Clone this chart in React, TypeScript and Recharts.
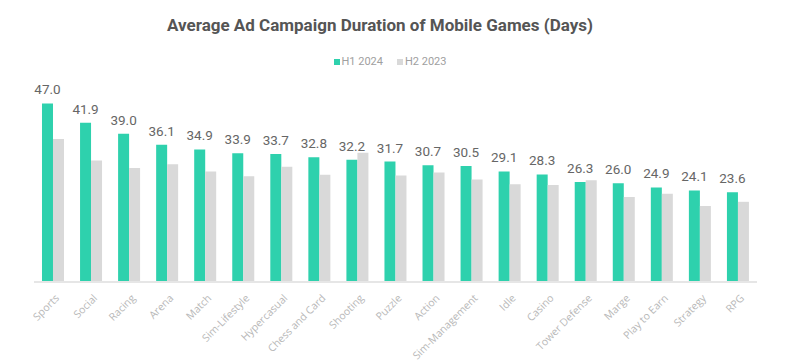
import React from 'react';
import { BarChart, Bar, XAxis, YAxis, LabelList } from 'recharts';

const genres = [
  'Sports', 'Social', 'Racing', 'Arena', 'Match', 'Sim-Lifestyle', 'Hypercasual',
  'Chess and Card', 'Shooting', 'Puzzle', 'Action', 'Sim-Management', 'Idle',
  'Casino', 'Tower Defense', 'Marge', 'Play to Earn', 'Strategy', 'RPG',
];
const h1_2024 = [47.0, 41.9, 39.0, 36.1, 34.9, 33.9, 33.7, 32.8, 32.2, 31.7, 30.7, 30.5, 29.1, 28.3, 26.3, 26.0, 24.9, 24.1, 23.6];
const h2_2023 = [37.6, 32.0, 30.0, 31.0, 29.1, 27.8, 30.3, 28.2, 34.0, 28.0, 28.8, 27.0, 25.7, 25.5, 26.8, 22.4, 23.2, 20.0, 21.1];

const GREEN = '#2ed1ad';
const GREY = '#d9d9d9';

const data = genres.map((g, i) => ({ genre: g, h1: h1_2024[i], h2: h2_2023[i] }));

const RotatedTick = (props: any) => {
  const { x, y, payload } = props;
  return (
    <g transform={`translate(${x + 4},${y + 6})`}>
      <text
        textAnchor="end"
        transform="rotate(-45)"
        fill="#b8b8b8"
        fontSize={10.5}
        fontFamily="'Open Sans', sans-serif"
        dy={4}
      >
        {payload.value}
      </text>
    </g>
  );
};

export default function App() {
  return (
    <div style={{ position: 'absolute', left: 0, top: 0, width: 800, height: 363, background: '#fff' }}>
      <div
        style={{
          position: 'absolute', top: 15, left: 0, width: 760, textAlign: 'center',
          fontFamily: 'Roboto, sans-serif', fontWeight: 700, fontSize: 17, color: '#555',
        }}
      >
        Average Ad Campaign Duration of Mobile Games (Days)
      </div>
      <div
        style={{
          position: 'absolute', top: 55, left: 0, width: 780, display: 'flex', justifyContent: 'center',
          fontFamily: 'Roboto, sans-serif', fontSize: 11, color: '#a0a0a0', gap: 14,
        }}
      >
        <span style={{ display: 'flex', alignItems: 'center' }}>
          <span style={{ width: 6, height: 6, background: GREEN, marginRight: 2 }} />H1 2024
        </span>
        <span style={{ display: 'flex', alignItems: 'center' }}>
          <span style={{ width: 6, height: 6, background: GREY, marginRight: 2 }} />H2 2023
        </span>
      </div>
      <BarChart
        width={800}
        height={363}
        data={data}
        margin={{ top: 92, right: 43, left: 34, bottom: 0 }}
        barGap={0}
        barCategoryGap="21%"
      >
        <XAxis
          dataKey="genre"
          interval={0}
          height={81}
          tickLine={false}
          axisLine={{ stroke: '#e6e6e6', strokeWidth: 2 }}
          tick={<RotatedTick />}
        />
        <YAxis hide domain={[0, 50]} />
        <Bar dataKey="h1" fill={GREEN} isAnimationActive={false}>
          <LabelList
            dataKey="h1"
            position="top"
            offset={9}
            formatter={(v: any) => Number(v).toFixed(1)}
            fill="#666"
            fontSize={13.5}
            fontFamily="Roboto, sans-serif"
          />
        </Bar>
        <Bar dataKey="h2" fill={GREY} isAnimationActive={false} />
      </BarChart>
    </div>
  );
}
